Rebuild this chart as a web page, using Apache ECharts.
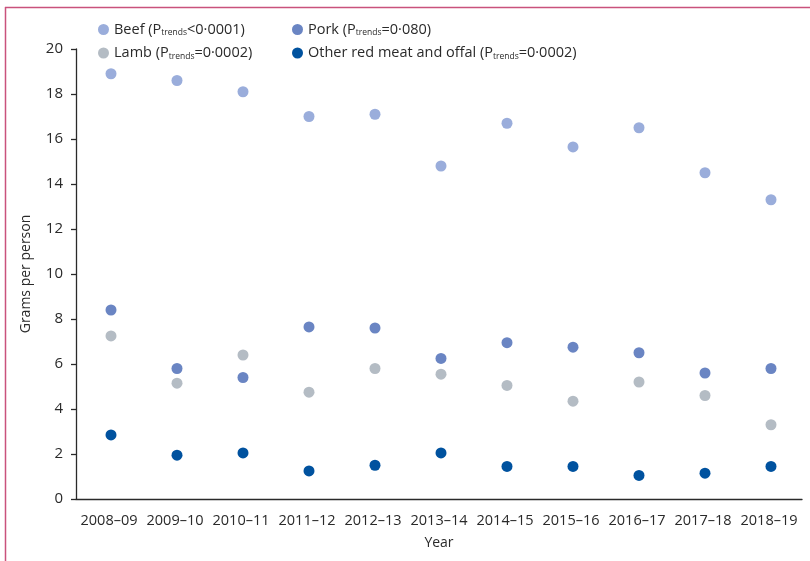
<!DOCTYPE html>
<html>
<head>
<meta charset="utf-8">
<script src="https://cdn.jsdelivr.net/npm/echarts@6/dist/echarts.min.js"></script>
<style>
  html, body { margin: 0; padding: 0; background: #fff; }
  #chart { width: 810px; height: 561px; }
</style>
</head>
<body>
<div id="chart"></div>
<script>
// Daily red meat purchases per person, by survey year
const years = ['2008–09', '2009–10', '2010–11', '2011–12', '2012–13', '2013–14',
               '2014–15', '2015–16', '2016–17', '2017–18', '2018–19'];
const beef  = [18.9, 18.6, 18.1, 17.0, 17.1, 14.8, 16.7, 15.65, 16.5, 14.5, 13.3];
const pork  = [8.4, 5.8, 5.4, 7.65, 7.6, 6.25, 6.95, 6.75, 6.5, 5.6, 5.8];
const lamb  = [7.25, 5.15, 6.4, 4.75, 5.8, 5.55, 5.05, 4.35, 5.2, 4.6, 3.3];
const other = [2.85, 1.95, 2.05, 1.25, 1.5, 2.05, 1.45, 1.45, 1.05, 1.15, 1.45];
const yTicks = [0, 2, 4, 6, 8, 10, 12, 14, 16, 18, 20];

const seriesNames = [
  'Beef (P{s|trends}<0·0001)',
  'Lamb (P{s|trends}=0·0002)',
  'Pork (P{s|trends}=0·080)',
  'Other red meat and offal (P{s|trends}=0·0002)'
];
const colours = ['#9aaddb', '#b4bcc4', '#6a85c3', '#00529f'];
const values = [beef, lamb, pork, other];

const FONT = '"Open Sans", "Noto Sans", sans-serif';
const axisColour = '#2a2a2a';

const legendText = {
  color: '#2a2a2a', fontSize: 14.5, fontFamily: FONT,
  rich: { s: { fontSize: 8.5, fontFamily: FONT, color: '#2a2a2a', padding: [7, 0, 0, 0] } }
};

const chart = echarts.init(document.getElementById('chart'), null, { renderer: 'canvas' });
chart.setOption({
  animation: false,
  backgroundColor: '#fff',
  color: colours,
  textStyle: { fontFamily: FONT },
  graphic: [
    { type: 'line', shape: { x1: 5, y1: 7.5, x2: 810, y2: 7.5 }, style: { stroke: '#c9527c', lineWidth: 1.5 } },
    { type: 'line', shape: { x1: 5.5, y1: 7, x2: 5.5, y2: 561 }, style: { stroke: '#c9527c', lineWidth: 1.5 } }
  ],
  legend: [
    {
      left: 93, top: 17, orient: 'vertical', itemGap: 8,
      icon: 'circle', itemWidth: 11, itemHeight: 11,
      data: [seriesNames[0], seriesNames[1]],
      textStyle: legendText, selectedMode: false
    },
    {
      left: 287, top: 17, orient: 'vertical', itemGap: 8,
      icon: 'circle', itemWidth: 11, itemHeight: 11,
      data: [seriesNames[2], seriesNames[3]],
      textStyle: legendText, selectedMode: false
    }
  ],
  grid: { left: 76, right: 8, top: 49, bottom: 62, containLabel: false },
  xAxis: {
    type: 'category',
    data: years,
    boundaryGap: true,
    name: 'Year',
    nameLocation: 'middle',
    nameGap: 37,
    nameTextStyle: { color: axisColour, fontSize: 14, fontFamily: FONT },
    axisLine: { lineStyle: { color: axisColour, width: 1.3 } },
    axisTick: { length: 7, lineStyle: { color: axisColour, width: 1.3 } },
    axisLabel: { color: axisColour, fontSize: 14.5, fontFamily: FONT, margin: 14, interval: 0 },
    splitLine: { show: false }
  },
  yAxis: {
    type: 'value',
    min: yTicks[0],
    max: yTicks[yTicks.length - 1],
    interval: yTicks[1] - yTicks[0],
    name: 'Grams per person',
    nameLocation: 'middle',
    nameGap: 43,
    nameTextStyle: { color: axisColour, fontSize: 14, fontFamily: FONT },
    axisLine: { show: true, lineStyle: { color: axisColour, width: 1.3 } },
    axisTick: { show: true, length: 5, lineStyle: { color: axisColour, width: 1.3 } },
    axisLabel: { color: axisColour, fontSize: 15, fontFamily: FONT, margin: 13 },
    splitLine: { show: false }
  },
  series: seriesNames.map((name, i) => ({
    name: name,
    type: 'scatter',
    symbol: 'circle',
    symbolSize: 11,
    symbolOffset: [2, 0],
    itemStyle: { color: colours[i], opacity: 1 },
    data: values[i]
  }))
});
</script>
</body>
</html>
